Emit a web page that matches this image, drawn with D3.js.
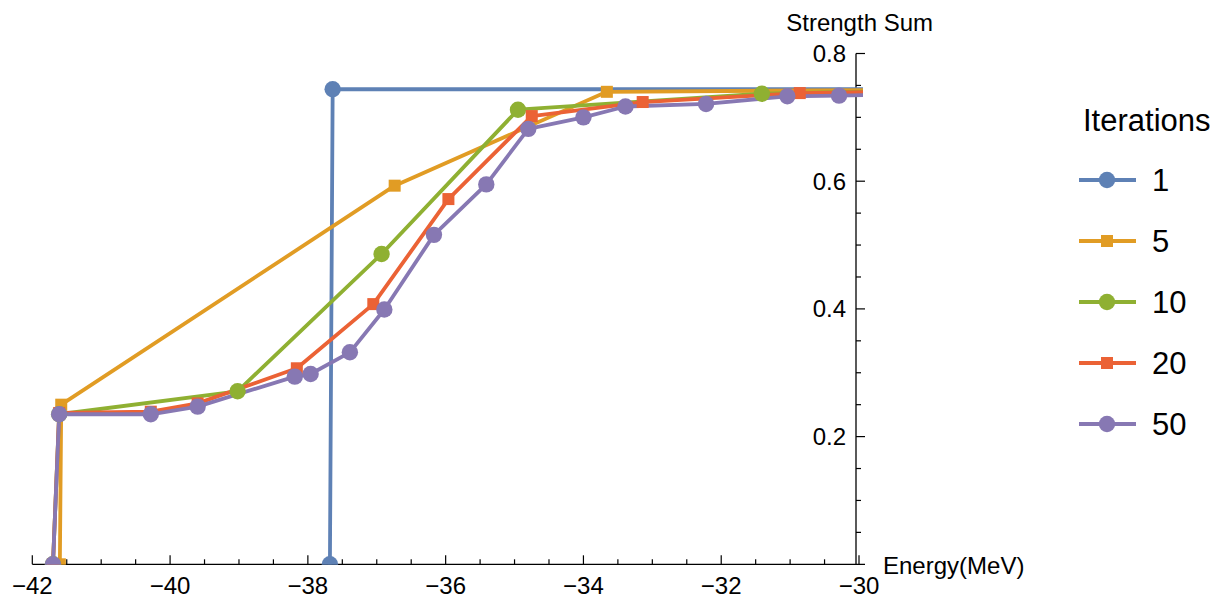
<!DOCTYPE html>
<html><head><meta charset="utf-8">
<script src="https://cdn.jsdelivr.net/npm/d3@7"></script>
<style>
html,body{margin:0;padding:0;background:#fff;}
svg text{font-family:"Liberation Sans",Arial,Helvetica,sans-serif;fill:#000;}
</style></head>
<body>
<svg id="chart" width="1212" height="598"></svg>
<script>
const seriesNames = ["1", "5", "10", "20", "50"];
const seriesColors = ["#5E81B5", "#E19C24", "#8FB032", "#EB6235", "#8778B3"];
const seriesShapes = ["circle", "square", "circle", "square", "circle"];

const energy1 = [-37.68, -37.64, -29.5];
const strength1 = [0, 0.744, 0.744];
const energy5 = [-41.60, -41.58, -36.74, -33.66, -29.5];
const strength5 = [0, 0.250, 0.593, 0.740, 0.743];
const energy10 = [-41.70, -41.61, -39.02, -36.93, -34.95, -31.41, -29.5];
const strength10 = [0, 0.235, 0.271, 0.486, 0.712, 0.737, 0.741];
const energy20 = [-41.70, -41.61, -40.28, -39.60, -38.16, -37.05, -35.96, -34.75, -33.14, -30.86, -29.5];
const strength20 = [0, 0.237, 0.239, 0.252, 0.307, 0.4075, 0.572, 0.702, 0.724, 0.738, 0.740];
const energy50 = [-41.70, -41.61, -40.28, -39.60, -38.19, -37.96, -37.39, -36.89, -36.17, -35.41, -34.80, -34.00, -33.39, -32.22, -31.04, -30.29, -29.5];
const strength50 = [0, 0.235, 0.235, 0.247, 0.294, 0.298, 0.332, 0.399, 0.516, 0.595, 0.682, 0.700, 0.717, 0.721, 0.733, 0.734, 0.736];

const xMajorTicks = [-42, -40, -38, -36, -34, -32, -30];
const yMajorTicks = [0.2, 0.4, 0.6, 0.8];
const xAxisTitle = "Energy(MeV)";
const yAxisTitle = "Strength Sum";
const legendTitle = "Iterations";

const energies = [energy1, energy5, energy10, energy20, energy50];
const strengths = [strength1, strength5, strength10, strength20, strength50];
const data = seriesNames.map((n, i) => ({
  name: n, color: seriesColors[i], shape: seriesShapes[i],
  pts: energies[i].map((e, j) => ({x: e, y: strengths[i][j]}))
}));

const svg = d3.select("#chart");
const x = d3.scaleLinear().domain([-42, -30]).range([32.3, 859]);
const y = d3.scaleLinear().domain([0, 0.8]).range([564.3, 53.5]);
const fmtMinus = d => String(d).replace("-", "\u2212");

const yAxisX = x(-30) - 3;

// clip for plot area (lines and markers)
svg.append("defs").append("clipPath").attr("id", "clip")
  .append("rect").attr("x", 0).attr("y", 0).attr("width", x(-30) + 4).attr("height", y(0) + 0.5);

// X axis
const xMinor = d3.range(-42, -29.99, 0.5);
const gx = svg.append("g").attr("transform", `translate(0,${y(0)})`);
gx.append("line").attr("x1", x(-42)).attr("x2", x(-30) + 6).attr("stroke", "#000").attr("stroke-width", 1.3);
gx.selectAll(".xt").data(xMinor).join("line")
  .attr("x1", d => x(d)).attr("x2", d => x(d))
  .attr("y1", 0).attr("y2", d => Math.abs(d - Math.round(d / 2) * 2) < 1e-6 ? -9 : -5)
  .attr("stroke", "#000").attr("stroke-width", 1.2);
gx.selectAll(".xl").data(xMajorTicks).join("text")
  .attr("x", d => x(d)).attr("y", 29.5).attr("text-anchor", "middle")
  .attr("font-size", 24).text(fmtMinus);
svg.append("text").attr("x", 883).attr("y", 574).attr("font-size", 24).text(xAxisTitle);

// Y axis
const yMinor = d3.range(0.05, 0.8001, 0.05);
const gy = svg.append("g").attr("transform", `translate(${yAxisX},0)`);
gy.append("line").attr("y1", y(0)).attr("y2", y(0.8)).attr("stroke", "#000").attr("stroke-width", 1.3);
gy.selectAll(".yt").data(yMinor).join("line")
  .attr("y1", d => y(d)).attr("y2", d => y(d))
  .attr("x1", 0).attr("x2", d => Math.abs(d * 5 - Math.round(d * 5)) < 1e-6 ? 9 : 5)
  .attr("stroke", "#000").attr("stroke-width", 1.2);
gy.selectAll(".yl").data(yMajorTicks).join("text")
  .attr("x", -10).attr("y", d => y(d) + 8.5).attr("text-anchor", "end")
  .attr("font-size", 24).text(d => d.toFixed(1));
svg.append("text").attr("x", 933).attr("y", 31).attr("text-anchor", "end").attr("font-size", 24).text(yAxisTitle);

// Lines
const line = d3.line().x(d => x(d.x)).y(d => y(d.y));
const plot = svg.append("g").attr("clip-path", "url(#clip)");
plot.append("g").selectAll("path").data(data).join("path")
  .attr("d", d => line(d.pts)).attr("fill", "none")
  .attr("stroke", d => d.color).attr("stroke-width", 3.8).attr("stroke-linejoin", "round");

// Markers
function drawMarker(g, shape, color, cx, cy) {
  if (shape === "circle") {
    g.append("circle").attr("cx", cx).attr("cy", cy).attr("r", 8.2).attr("fill", color);
  } else {
    g.append("rect").attr("x", cx - 6).attr("y", cy - 6).attr("width", 12).attr("height", 12).attr("fill", color);
  }
}
const gm = plot.append("g");
data.forEach(s => {
  s.pts.filter(p => p.x <= -30).forEach(p => drawMarker(gm, s.shape, s.color, x(p.x), y(p.y)));
});

// Legend
const lg = svg.append("g");
lg.append("text").attr("x", 1083).attr("y", 131).attr("font-size", 31).text(legendTitle);
data.forEach((s, i) => {
  const ly = 180 + i * 61;
  lg.append("line").attr("x1", 1079).attr("x2", 1136).attr("y1", ly).attr("y2", ly)
    .attr("stroke", s.color).attr("stroke-width", 3.8);
  drawMarker(lg, s.shape, s.color, 1107, ly);
  lg.append("text").attr("x", 1152).attr("y", ly + 11).attr("font-size", 31).text(s.name);
});
</script>
</body></html>
